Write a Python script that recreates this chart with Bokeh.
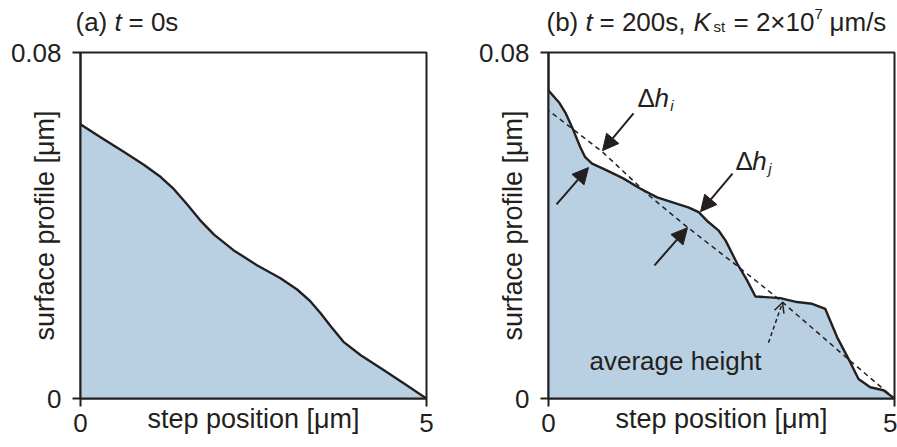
from bokeh.plotting import figure
from bokeh.layouts import row, column
from bokeh.models import (Arrow, NormalHead, OpenHead, Label, FixedTicker,
                          CustomJSTickFormatter)
from bokeh.embed import file_html
from bokeh.resources import INLINE

# ---- data -------------------------------------------------------------
# (a) initial profile, t = 0 s
x_init = [0.0, 0.29, 0.63, 0.92, 1.16, 1.35, 1.54, 1.73, 1.93, 2.21, 2.55,
          2.89, 3.13, 3.32, 3.47, 3.61, 3.80, 4.05, 4.38, 4.67, 5.0]
h_init = [0.0634, 0.0604, 0.0570, 0.0540, 0.0512, 0.0484, 0.0449, 0.0412,
          0.0379, 0.0343, 0.0308, 0.0278, 0.0252, 0.0225, 0.0197, 0.0168,
          0.0131, 0.0100, 0.0066, 0.0035, 0.0]

# (b) bunched profile, t = 200 s
x_bunch = [0.0, 0.15, 0.25, 0.36, 0.46, 0.53, 0.63, 0.85, 1.08, 1.33, 1.57,
           1.86, 2.02, 2.17, 2.31, 2.46, 2.56, 2.73, 2.87, 2.99, 3.35, 3.59,
           3.81, 4.00, 4.17, 4.36, 4.48, 4.65, 4.84, 5.0]
h_bunch = [0.0712, 0.0685, 0.0659, 0.0620, 0.0581, 0.0558, 0.0543, 0.0527,
           0.0509, 0.0485, 0.0465, 0.0450, 0.0442, 0.0431, 0.0408, 0.0388,
           0.0365, 0.0311, 0.0273, 0.0236, 0.0232, 0.0223, 0.0219, 0.0207,
           0.0142, 0.0084, 0.0045, 0.0026, 0.0019, 0.0]

# average height (dashed reference line)
x_avg = [-0.145, 0.0, 0.78, 1.47, 2.0, 2.78, 3.35, 4.36, 5.0]
h_avg = [0.0684, 0.0666, 0.0570, 0.0467, 0.0397, 0.0300, 0.0227, 0.0087, 0.0]

# deviation arrows: (x_start, y_start, x_end, y_end)
arrows_solid = [
    (1.228, 0.0659, 0.780, 0.0573),
    (0.116, 0.0449, 0.578, 0.0534),
    (2.659, 0.0520, 2.197, 0.0432),
    (1.532, 0.0308, 2.009, 0.0395),
]
arrow_avg = (3.179, 0.0129, 3.382, 0.0222)

x_ticks = [0, 5]
y_ticks = [0, 0.08]

INK = "#231f20"
FILL = "#b9d0e3"
FONT = "Liberation Sans"
FS = "26px"
FS_SMALL = "15px"

TITLE_H = 36      # height of the title strip above each panel
FRAME = 346       # square plotting frame, px


def title_strip(width):
    """Blank strip whose data units are pixels, used to set rich titles."""
    t = figure(width=width, height=TITLE_H, x_range=(0, width),
               y_range=(0, TITLE_H), output_backend="svg", title=None,
               toolbar_location=None, x_axis_location=None,
               y_axis_location=None,
               min_border_left=0, min_border_right=0,
               min_border_top=0, min_border_bottom=0)
    t.frame_align = False
    t.grid.visible = False
    t.outline_line_color = None
    t.background_fill_color = "white"
    t.border_fill_color = "white"
    return t


def make_panel(x, h, left, right):
    p = figure(width=left + FRAME + right, height=447 - TITLE_H,
               x_range=(0, 5), y_range=(0, 0.08),
               output_backend="svg", toolbar_location=None,
               min_border_left=left, min_border_right=right,
               min_border_top=52 - TITLE_H, min_border_bottom=49)
    p.grid.visible = False
    p.background_fill_color = "white"
    p.border_fill_color = "white"
    p.outline_line_color = INK
    p.outline_line_width = 2

    p.varea(x=x, y1=0, y2=h, fill_color=FILL)
    p.line(x, h, line_color=INK, line_width=2.4, line_join="round")

    for ax in (p.xaxis[0], p.yaxis[0]):
        ax.axis_line_color = INK
        ax.axis_line_width = 2
        ax.major_tick_line_color = INK
        ax.major_tick_line_width = 2
        ax.major_tick_out = 8
        ax.major_tick_in = 0
        ax.minor_tick_line_color = None
        ax.major_label_text_font = FONT
        ax.major_label_text_font_size = "26px"
        ax.major_label_text_color = INK
        ax.axis_label_text_font = FONT
        ax.axis_label_text_font_size = "27px"
        ax.axis_label_text_font_style = "normal"
        ax.axis_label_text_color = INK

    p.xaxis.ticker = FixedTicker(ticks=x_ticks)
    p.yaxis.ticker = FixedTicker(ticks=y_ticks)
    p.yaxis.formatter = CustomJSTickFormatter(
        code="return tick == 0 ? '0' : tick.toFixed(2);")
    p.xaxis.axis_label = "step position [μm]"
    p.yaxis.axis_label = "surface profile [μm]"
    p.xaxis.major_label_standoff = 7
    p.yaxis.major_label_standoff = 11
    p.xaxis.axis_label_standoff = -31
    p.yaxis.axis_label_standoff = -52
    return p


def txt(p, x, y, s, style="normal", size=FS):
    p.add_layout(Label(x=x, y=y, text=s, text_font=FONT,
                       text_font_size=size, text_font_style=style,
                       text_color=INK, text_baseline="alphabetic"))


# ---- (a) t = 0 s --------------------------------------------------------
W_A = 80 + FRAME + 22
ta = title_strip(W_A)
txt(ta, 75, 15, "(a)")
txt(ta, 114, 15, "t", "italic")
txt(ta, 128, 15, "= 0s")
pa = make_panel(x_init, h_init, 80, 22)

# ---- (b) t = 200 s ------------------------------------------------------
W_B = 100 + FRAME + 3
tb = title_strip(W_B)
txt(tb, 98, 15, "(b)")
txt(tb, 137, 15, "t", "italic")
txt(tb, 151, 15, "= 200s,")
txt(tb, 245, 15, "K", "italic")
txt(tb, 265, 10, "st", size=FS_SMALL)
txt(tb, 285, 15, "= 2×10")
txt(tb, 366, 23, "7", size=FS_SMALL)
txt(tb, 381, 15, "μm/s")

pb = make_panel(x_bunch, h_bunch, 100, 3)
pb.line(x_avg, h_avg, line_color=INK, line_width=1.5, line_dash="5 4")

for xs, ys, xe, ye in arrows_solid:
    pb.add_layout(Arrow(x_start=xs, y_start=ys, x_end=xe, y_end=ye,
                        line_color=INK, line_width=2,
                        end=NormalHead(size=16, fill_color=INK,
                                       line_color=INK, line_width=1)))
xs, ys, xe, ye = arrow_avg
pb.add_layout(Arrow(x_start=xs, y_start=ys, x_end=xe, y_end=ye,
                    line_color=INK, line_width=1.5, line_dash="4 3",
                    end=OpenHead(size=10, line_color=INK, line_width=1.5)))

txt(pb, 1.286, 0.0695, "Δ")
txt(pb, 1.530, 0.0695, "h", "italic")
txt(pb, 1.760, 0.0677, "i", "italic", FS_SMALL)
txt(pb, 2.702, 0.0550, "Δ")
txt(pb, 2.946, 0.0550, "h", "italic")
txt(pb, 3.176, 0.0531, "j", "italic", FS_SMALL)

txt(pb, 0.592, 0.0087, "average height")

layout = row(column(ta, pa), column(tb, pb))
open("out.html", "w").write(file_html(layout, INLINE))
